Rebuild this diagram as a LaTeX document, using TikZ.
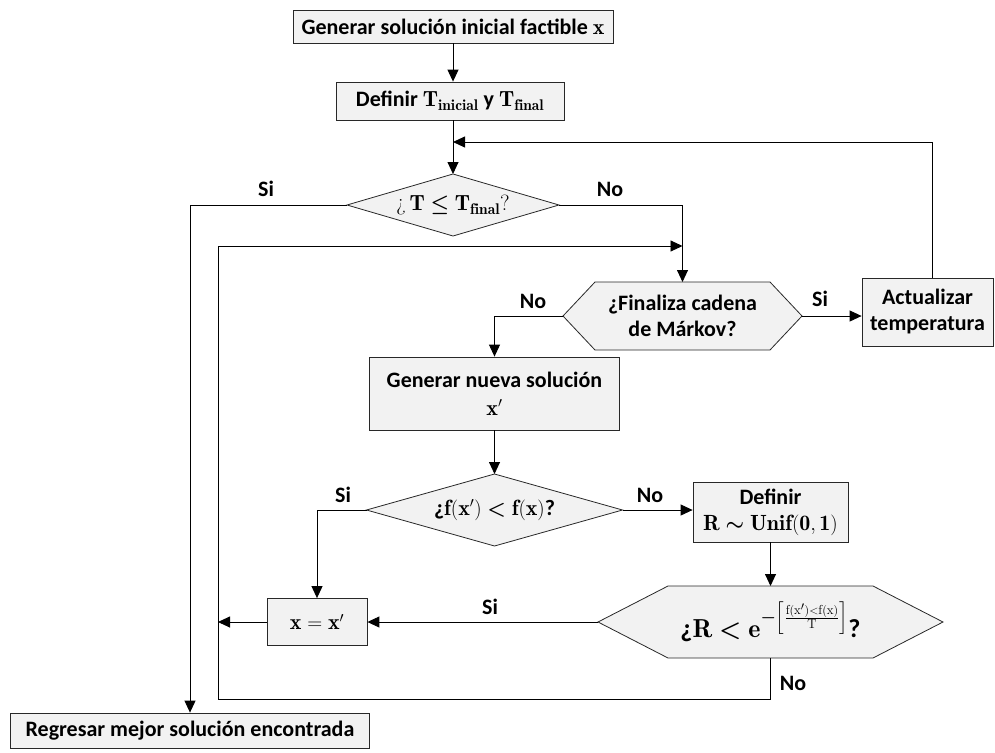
\documentclass[tikz,border=0pt]{standalone}
\usepackage{amsmath,amssymb}
\usepackage{fontspec}
\newfontfamily\carlito{Carlito}
\usetikzlibrary{arrows.meta,backgrounds}

\definecolor{boxfill}{RGB}{242,242,242}
\definecolor{edge}{RGB}{40,40,40}

% bold sans text used in all boxes and labels
\newcommand\txt{\carlito\bfseries\fontsize{22}{26}\selectfont}

\tikzset{
  flow/.style={line width=0.9pt, draw=black},
  arr/.style={flow, -{Triangle[length=12pt,width=11pt]}},
  procbox/.style={draw=edge, fill=boxfill, line width=0.8pt, align=center,
                  inner sep=0pt, font=\txt},
  decnode/.style={inner sep=0pt, outer sep=0pt, align=center, font=\txt},
  decline/.style={draw=edge, fill=boxfill, line width=0.8pt},
  lab/.style={font=\txt, inner sep=0pt},
}

% decision outline (diamond or hexagon) drawn behind a node; #2 = corner inset
\newcommand\decshape[2]{%
  \begin{scope}[on background layer]
    \draw[decline] (#1.west) -- ([xshift=#2]#1.north west)
      -- ([xshift=-#2]#1.north east) -- (#1.east)
      -- ([xshift=-#2]#1.south east) -- ([xshift=#2]#1.south west) -- cycle;
  \end{scope}}

\begin{document}
\begin{tikzpicture}[x=1pt,y=-1pt]
\useasboundingbox (0,0) rectangle (995,752);

% ---- nodes ----
\node[procbox, minimum width=320, minimum height=33] (init) at (453,26.5)
  {Generar solución inicial factible $\mathbf{x}$};
\node[procbox, minimum width=228, minimum height=38] (defT) at (450,101)
  {Definir $\mathbf{T}_{\mathbf{inicial}}$ y $\mathbf{T}_{\mathbf{final}}$};

\node[decnode, minimum width=212, minimum height=62] (dec1) at (453,205)
  {{\rmfamily\mdseries ¿\,}$\mathbf{T}\boldsymbol{\leq}\mathbf{T}_{\mathbf{final}}${\rmfamily\mdseries ?}};
\decshape{dec1}{106}

\node[decnode, minimum width=239, minimum height=68] (mk) at (682.5,316)
  {¿Finaliza cadena\\de Márkov?};
\decshape{mk}{32}

\node[procbox, minimum width=131, minimum height=68] (act) at (927.5,312)
  {Actualizar\\temperatura};

\node[procbox, minimum width=250, minimum height=73] (gen) at (494.5,393.5)
  {Generar nueva solución\\[2pt]$\mathbf{x'}$};

\node[decnode, minimum width=256, minimum height=72] (dec2) at (494.5,510)
  {¿$\mathbf{f(x')}\boldsymbol{<}\mathbf{f(x)}$?};
\decshape{dec2}{128}

\node[procbox, minimum width=155, minimum height=60] (defR) at (770.5,512)
  {Definir\\$\mathbf{R}\boldsymbol{\sim}\mathbf{Unif(0,1)}$};

\node[decnode, minimum width=345, minimum height=72,
      font=\carlito\bfseries\fontsize{26}{30}\selectfont] (hex2) at (770.5,622)
  {¿$\mathbf{R}\boldsymbol{<}\mathbf{e}^{\boldsymbol{-}\left[\frac{\mathrm{f(x')<f(x)}}{\mathrm{T}}\right]}$?};
\decshape{hex2}{70}

\node[procbox, minimum width=100, minimum height=47] (xeq) at (317,622)
  {$\mathbf{x=x'}$};

\node[procbox, minimum width=359, minimum height=35] (final) at (190,730.5)
  {Regresar mejor solución encontrada};

% ---- bend points ----
\coordinate (ret) at (932,142);
\coordinate (lpb) at (218,699);
\coordinate (lpt) at (218,246);

% ---- connectors ----
\draw[arr] (init.south) -- (init.south |- defT.north);
\draw[arr] (defT.south -| dec1.north) -- (dec1.north);
\draw[arr] (act.north -| ret) -- (ret) -- (ret -| dec1.north);
\draw[arr] (dec1.west) -| (final.north);
\draw[arr] (dec1.east) -| (mk.north);
\draw[arr] (mk.west) -| (gen.north);
\draw[arr] (mk.east) -- (mk.east -| act.west);
\draw[arr] (gen.south) -- (dec2.north);
\draw[arr] (dec2.west) -| (xeq.north);
\draw[arr] (dec2.east) -- (dec2.east -| defR.west);
\draw[arr] (defR.south) -- (hex2.north);
\draw[arr] (hex2.west) -- (hex2.west -| xeq.east);
\draw[arr] (xeq.west) -- (xeq.west -| lpb);
\draw[arr] (hex2.south) |- (lpb) -- (lpt) -- (lpt -| mk.north);

% ---- branch labels ----
\node[lab] (s1) at (266,189) {Si};
\node[lab] (n1) at (610,189) {No};
\node[lab] (n2) at (533,301) {No};
\node[lab] (s2) at (820,299) {Si};
\node[lab] (s3) at (343,495) {Si};
\node[lab] (n3) at (650,495) {No};
\node[lab] (s4) at (490,607) {Si};
\node[lab] (n4) at (793,683) {No};
\end{tikzpicture}
\end{document}
